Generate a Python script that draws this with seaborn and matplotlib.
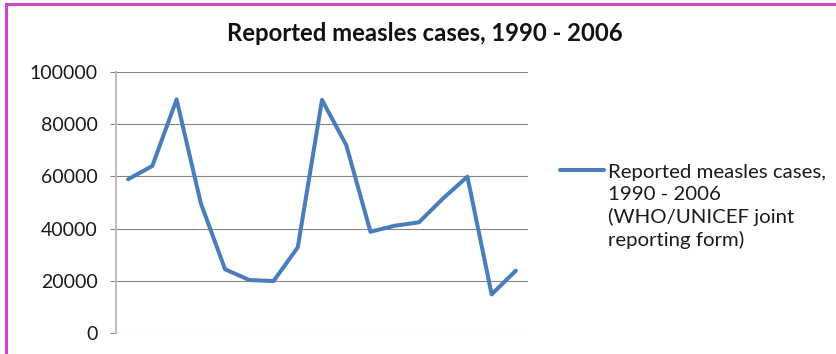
import matplotlib
matplotlib.use("Agg")
import numpy as np
import pandas as pd
import matplotlib.pyplot as plt
import seaborn as sns
from matplotlib.patches import Rectangle

# ---- data ----
years = list(range(1990, 2007))
cases = [58900, 64000, 89500, 49700, 24400, 20300, 19900, 32800, 89300,
         72000, 38800, 41100, 42400, 51600, 59900, 14800, 23900]
yticks = [0, 20000, 40000, 60000, 80000, 100000]
ytick_labels = [str(v) for v in yticks]
title = "Reported measles cases, 1990 - 2006"
series_label = "Reported measles cases,\n1990 - 2006\n(WHO/UNICEF joint\nreporting form)"

# ---- style ----
sns.set_theme(style="white")
plt.rcParams['font.family'] = ['Lato', 'DejaVu Sans']

W, H = 836, 354
fig = plt.figure(figsize=(W / 100, H / 100), dpi=100)
fig.patch.set_facecolor("white")

ax = fig.add_axes([116 / W, 21 / H, 412 / W, 261 / H])
df = pd.DataFrame({"idx": range(len(years)), "cases": cases})
sns.lineplot(data=df, x="idx", y="cases", ax=ax, color="#4A7EBB",
             linewidth=2.9, label=series_label)

ax.set_xlim(-0.5, len(years) - 0.5)
ax.set_ylim(0, 100000)
ax.set_yticks(yticks)
ax.set_yticklabels(ytick_labels)
ax.set_xticks([])
ax.set_xlabel("")
ax.set_ylabel("")
ax.grid(axis="y", color="#868686", linewidth=0.8)
ax.set_axisbelow(True)
for s in ["top", "right", "bottom"]:
    ax.spines[s].set_visible(False)
ax.spines["left"].set_color("#BEBEBE")
ax.spines["left"].set_linewidth(1.5)
ax.tick_params(axis="y", left=True, length=4.3, width=0.8, color="#868686",
               pad=9, labelsize=14, labelcolor="#1a1a1a")

# title
fig.text(425 / W, 1 - 41 / H, title, ha="center", va="baseline",
         fontsize=17.2, fontweight="bold", color="#111111")

# legend
leg = ax.legend(loc="upper left", bbox_to_anchor=(560 / W, 1 - 164 / H),
                bbox_transform=fig.transFigure, frameon=False, fontsize=14.7,
                handlelength=2.15, handleheight=0.45, handletextpad=0.2,
                borderpad=0, borderaxespad=0, labelspacing=0)
for t in leg.get_texts():
    t.set_color("#1a1a1a")
    t.set_linespacing(1.33)
try:
    for col in leg._legend_handle_box.get_children():
        for item in col.get_children():
            item.align = "top"
except Exception:
    pass

# magenta frame (cropped on right/bottom)
fig.add_artist(Rectangle((5.5 / W, -0.2), 2.0, 1.2 - 4 / H,
                         transform=fig.transFigure, fill=False,
                         edgecolor="#CC46CC", linewidth=2.2, clip_on=False))

fig.savefig("out.png", dpi=100, facecolor="white")
